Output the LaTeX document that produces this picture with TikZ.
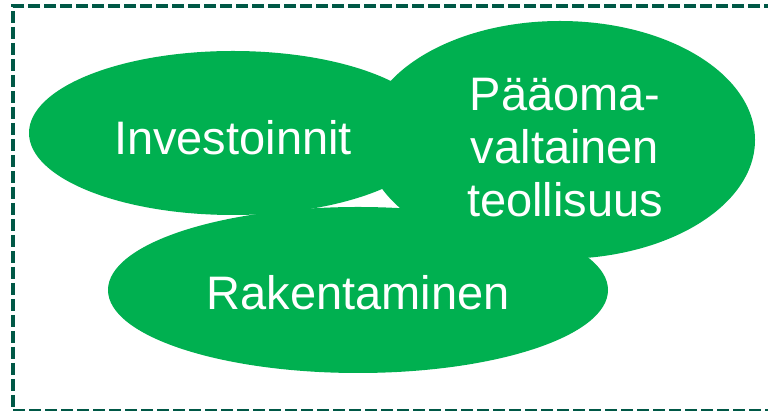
\documentclass[tikz,border=0pt]{standalone}
\usepackage{fontspec}
\setmainfont{Liberation Sans}
\usetikzlibrary{shapes.geometric}
\definecolor{blobgreen}{RGB}{0,176,80}
\definecolor{framegreen}{RGB}{0,88,70}
\begin{document}
\begin{tikzpicture}[x=1pt,y=1pt,
  blob/.style={ellipse,fill=blobgreen,draw=none,inner sep=0pt},
  lbl/.style={text=white,font=\fontsize{47}{53}\selectfont,align=center,inner sep=0pt},
  frame/.style={draw=framegreen,line width=4pt,dash pattern=on 12pt off 4pt}]
\useasboundingbox (0,0) rectangle (768,411);
\fill[white] (0,0) rectangle (768,411);
\node[frame,minimum width=779pt,minimum height=405pt,anchor=north west,inner sep=0pt] (box) at (11,407) {};
\node[blob,minimum width=408pt,minimum height=164pt] (inv) at (233,278) {};
\node[blob,minimum width=390pt,minimum height=238pt] (paa) at (560,271) {};
\node[blob,minimum width=500pt,minimum height=166pt] (rak) at (358,121) {};
\node[lbl] (tinv) at (233,273) {Investoinnit};
\node[lbl] (tpaa) at (565,263) {Pääoma-\\valtainen\\teollisuus};
\node[lbl] (trak) at (358,118) {Rakentaminen};
\end{tikzpicture}
\end{document}
